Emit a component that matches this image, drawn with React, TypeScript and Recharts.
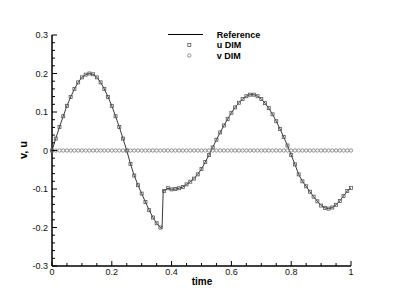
import { ComposedChart, Line, XAxis, YAxis } from "recharts";

// u DIM samples, t = 0 .. 1 every 0.0125
const uDim = [
  0.0, 0.031, 0.061, 0.089, 0.116, 0.139, 0.16, 0.177, 0.19, 0.197, 0.2,
  0.198, 0.19, 0.177, 0.16, 0.139, 0.116, 0.089, 0.061, 0.031, 0.0,
  -0.035, -0.065, -0.09, -0.112, -0.134, -0.155, -0.174, -0.189, -0.2,
  -0.105, -0.098, -0.101, -0.1, -0.098, -0.095, -0.088, -0.081, -0.073, -0.062,
  -0.048, -0.03, -0.012, 0.008, 0.028, 0.047, 0.065, 0.082, 0.098, 0.112,
  0.124, 0.134, 0.141, 0.145, 0.145, 0.141, 0.134, 0.123, 0.11, 0.094,
  0.076, 0.056, 0.035, 0.013, -0.012, -0.036, -0.062, -0.08, -0.093, -0.107,
  -0.12, -0.132, -0.143, -0.149, -0.151, -0.148, -0.141, -0.131, -0.118, -0.105,
  -0.097,
];
// v DIM samples, same times
const vDim = [
  0, 0, 0, 0, 0, 0, 0, 0, 0, 0, 0, 0, 0, 0, 0, 0, 0, 0, 0, 0, 0,
  0, 0, 0, 0, 0, 0, 0, 0, 0, 0, 0, 0, 0, 0, 0, 0, 0, 0, 0,
  0, 0, 0, 0, 0, 0, 0, 0, 0, 0, 0, 0, 0, 0, 0, 0, 0, 0, 0, 0,
  0, 0, 0, 0, 0, 0, 0, 0, 0, 0, 0, 0, 0, 0, 0, 0, 0, 0, 0, 0,
  0,
];
// extra reference points at the sharp jump
const jumpTime = [0.368, 0.372];
const jumpU = [-0.203, -0.104];

const xMajor = [0, 0.2, 0.4, 0.6, 0.8, 1];
const yMajor = [-0.3, -0.2, -0.1, 0, 0.1, 0.2, 0.3];
const seriesNames = ["Reference", "u DIM", "v DIM"];

const rows = vDim.map((v, i) => ({ t: i / 80, u: uDim[i], v }));
const refRows = [
  ...rows.map((r) => ({ t: r.t, u: r.u })),
  ...jumpTime.map((t, i) => ({ t, u: jumpU[i] })),
].sort((a, b) => a.t - b.t);

const xTicks = Array.from({ length: 21 }, (_, i) => i / 20);
const yTicks = Array.from({ length: 31 }, (_, i) => Math.round((-0.3 + i * 0.02) * 100) / 100);

const FONT = '"Liberation Sans", Arial, sans-serif';
const isMajor = (list: number[], v: number) => list.some((m) => Math.abs(m - v) < 1e-6);

function XTick(props: any) {
  const { x, y, payload } = props;
  const major = isMajor(xMajor, payload.value);
  return (
    <g>
      <line x1={x} x2={x} y1={y} y2={y - (major ? 5 : 3)} stroke="#000" strokeWidth={1} />
      {major && (
        <text x={x} y={y + 9} textAnchor="middle" fontSize={9} fontFamily={FONT} fill="#111">
          {String(payload.value)}
        </text>
      )}
    </g>
  );
}

function YTick(props: any) {
  const { x, y, payload } = props;
  const major = isMajor(yMajor, payload.value);
  return (
    <g>
      <line x1={x} x2={x + (major ? 5 : 3)} y1={y} y2={y} stroke="#000" strokeWidth={1} />
      {major && (
        <text x={x - 4} y={y + 3.2} textAnchor="end" fontSize={9} fontFamily={FONT} fill="#111">
          {String(payload.value)}
        </text>
      )}
    </g>
  );
}

const squareDot = (p: any) => (
  <rect key={`s-${p.index}`} x={p.cx - 1.5} y={p.cy - 1.5} width={3} height={3}
    fill="none" stroke="#555" strokeWidth={0.8} />
);
const circleDot = (p: any) => (
  <circle key={`c-${p.index}`} cx={p.cx} cy={p.cy} r={1.7}
    fill="none" stroke="#777" strokeWidth={0.8} />
);

export default function App() {
  return (
    <div style={{ position: "relative", width: 391, height: 291 }}>
      <ComposedChart width={391} height={291} data={rows}
        margin={{ top: 27, right: 48, bottom: 0, left: 0 }}>
        <XAxis dataKey="t" type="number" domain={[0, 1]} ticks={xTicks} interval={0}
          height={33} tickSize={0} tickMargin={0} tickLine={false}
          axisLine={{ stroke: "#000", strokeWidth: 1.5 }} tick={<XTick />} />
        <YAxis type="number" domain={[-0.3, 0.3]} ticks={yTicks} interval={0}
          width={44} tickSize={0} tickMargin={0} tickLine={false}
          axisLine={{ stroke: "#000", strokeWidth: 1.5 }} tick={<YTick />} />
        <Line data={refRows} dataKey="u" stroke="#222" strokeWidth={0.9} dot={false}
          activeDot={false} isAnimationActive={false} />
        <Line dataKey="u" stroke="none" dot={squareDot} activeDot={false}
          isAnimationActive={false} />
        <Line dataKey="v" stroke="none" dot={circleDot} activeDot={false}
          isAnimationActive={false} />
      </ComposedChart>
      <svg width={391} height={291}
        style={{ position: "absolute", left: 0, top: 0, pointerEvents: "none" }}>
        <g fontFamily={FONT} fontWeight="bold" fill="#000">
          <text x={194} y={277} textAnchor="middle" fontSize={10}>time</text>
          <text x={19} y={142} textAnchor="middle" fontSize={11}
            transform="rotate(-90, 19, 142)">v, u</text>
          <line x1={160} x2={195} y1={26.5} y2={26.5} stroke="#000" strokeWidth={1} />
          <text x={208.7} y={29.8} fontSize={9}>{seriesNames[0]}</text>
          <rect x={179.8} y={35.5} width={3} height={3} fill="none" stroke="#555" strokeWidth={0.8} />
          <text x={208.7} y={40.3} fontSize={9}>{seriesNames[1]}</text>
          <circle cx={181.3} cy={47.5} r={1.7} fill="none" stroke="#777" strokeWidth={0.8} />
          <text x={208.7} y={50.8} fontSize={9}>{seriesNames[2]}</text>
        </g>
      </svg>
    </div>
  );
}
